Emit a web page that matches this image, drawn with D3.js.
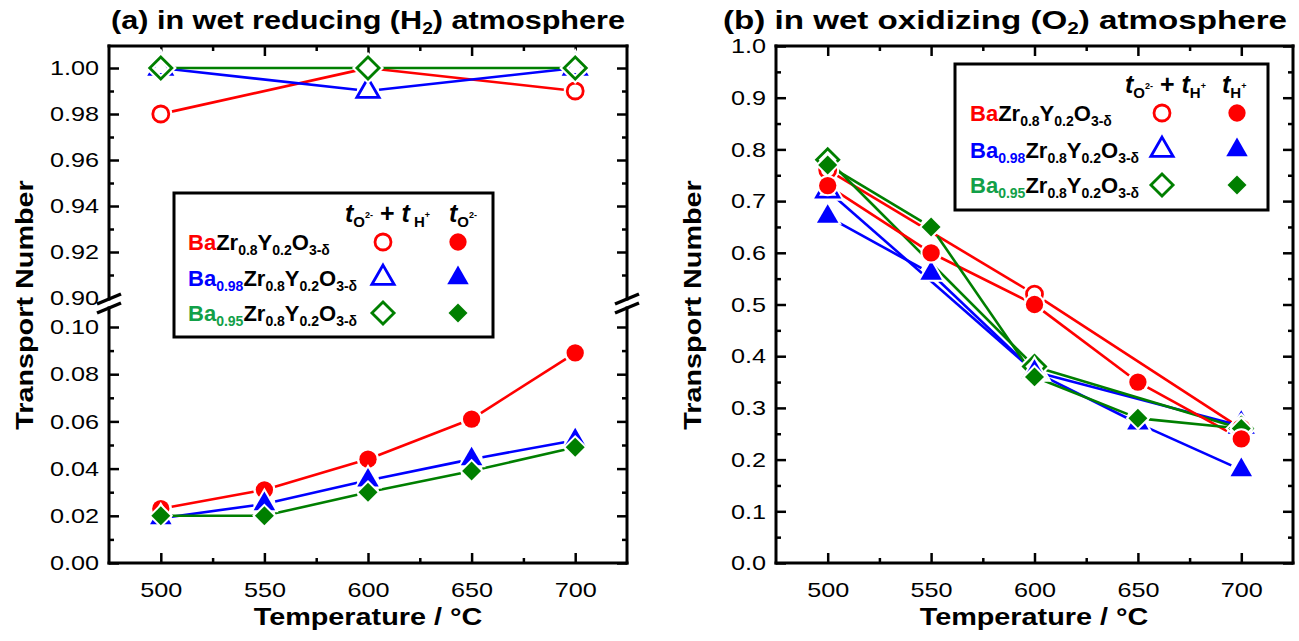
<!DOCTYPE html>
<html>
<head>
<meta charset="utf-8">
<script src="https://cdn.jsdelivr.net/npm/d3@7"></script>
<style>
  body { margin: 0; background: #fff; }
  text { font-family: "Liberation Sans", Arial, Helvetica, sans-serif; }
</style>
</head>
<body>
<svg id="chart" width="1299" height="641"></svg>
<script>
// ---- data ----
const temps      = [500, 550, 600, 650, 700];
const tempsTotal = [500, 600, 700];
const xTickVals  = [500, 550, 600, 650, 700];

// (a) wet reducing (H2): t_O2- + t_H+ (open) and t_O2- (filled)
const redTotalA   = [0.98, 1.00, 0.99];
const blueTotalA  = [1.00, 0.99, 1.00];
const greenTotalA = [1.00, 1.00, 1.00];
const redOxideA   = [0.023, 0.031, 0.044, 0.061, 0.089];
const blueOxideA  = [0.019, 0.025, 0.035, 0.044, 0.052];
const greenOxideA = [0.020, 0.020, 0.030, 0.039, 0.049];

// (b) wet oxidizing (O2): t_O2- + t_H+ (open) and t_H+ (filled)
const redTotalB    = [0.76, 0.52, 0.26];
const blueTotalB   = [0.72, 0.37, 0.265];
const greenTotalB  = [0.78, 0.38, 0.26];
const redProtonB   = [0.73, 0.60, 0.50, 0.35, 0.24];
const blueProtonB  = [0.67, 0.56, 0.37, 0.27, 0.18];
const greenProtonB = [0.77, 0.65, 0.36, 0.28, 0.26];

const yTicksAup = [0.90, 0.92, 0.94, 0.96, 0.98, 1.00];
const yTicksAlo = [0.00, 0.02, 0.04, 0.06, 0.08, 0.10];
const yTicksB   = [0, 0.1, 0.2, 0.3, 0.4, 0.5, 0.6, 0.7, 0.8, 0.9, 1.0];

const RED = '#ff0000', BLUE = '#0000ff', GREEN = '#007f00';
const TXT_GREEN = '#12a048';
const SX = 1.2;   // the original lettering is wider than Liberation Sans

const svg = d3.select('#chart');

// scales
const xA    = d3.scaleLinear().domain([475, 725]).range([109, 627]);
const yAup  = d3.scaleLinear().domain([0.90, 1.00957]).range([298, 46]);
const yAlo  = d3.scaleLinear().domain([0, 0.10]).range([563, 327]);
const xB    = d3.scaleLinear().domain([475, 725]).range([776, 1293]);
const yB    = d3.scaleLinear().domain([0, 1.0]).range([563, 46]);

// ---- helpers ----
function styleAxis(g, size) {
  g.select('.domain').remove();
  g.selectAll('.tick line').attr('stroke', '#000').attr('stroke-width', 2.5);
  g.selectAll('text').attr('font-size', size)
    .attr('font-family', '"Liberation Sans", Arial, sans-serif').attr('fill', '#000');
}

function drawXAxes(x, top, bottom) {
  const minor = [525, 575, 625, 675];
  let g = svg.append('g').attr('transform', `translate(0,${bottom})`)
    .call(d3.axisBottom(x).tickValues(xTickVals).tickSize(-10).tickPadding(19));
  styleAxis(g, 21);
  g = svg.append('g').attr('transform', `translate(0,${bottom})`)
    .call(d3.axisBottom(x).tickValues(minor).tickSize(-5).tickFormat(''));
  styleAxis(g, 21);
  g = svg.append('g').attr('transform', `translate(0,${top})`)
    .call(d3.axisTop(x).tickValues(xTickVals).tickSize(-10).tickFormat(''));
  styleAxis(g, 21);
  g = svg.append('g').attr('transform', `translate(0,${top})`)
    .call(d3.axisTop(x).tickValues(minor).tickSize(-5).tickFormat(''));
  styleAxis(g, 21);
}

function drawYAxes(y, left, right, major, minor, fmt, skipTick) {
  let g = svg.append('g').attr('transform', `translate(${left},0)`)
    .call(d3.axisLeft(y).tickValues(major).tickSize(-10).tickPadding(10).tickFormat(fmt));
  styleAxis(g, 21);
  if (skipTick !== undefined) g.selectAll('.tick').filter(d => d === skipTick).select('line').remove();
  g = svg.append('g').attr('transform', `translate(${left},0)`)
    .call(d3.axisLeft(y).tickValues(minor).tickSize(-5).tickFormat(''));
  styleAxis(g, 21);
  g = svg.append('g').attr('transform', `translate(${right},0)`)
    .call(d3.axisRight(y).tickValues(major.filter(d => d !== skipTick)).tickSize(-10).tickFormat(''));
  styleAxis(g, 21);
  g = svg.append('g').attr('transform', `translate(${right},0)`)
    .call(d3.axisRight(y).tickValues(minor).tickSize(-5).tickFormat(''));
  styleAxis(g, 21);
}

function seg(x1, y1, x2, y2) {
  svg.append('line').attr('x1', x1).attr('y1', y1).attr('x2', x2).attr('y2', y2)
    .attr('stroke', '#000').attr('stroke-width', 3).attr('stroke-linecap', 'square');
}

// line with small gaps next to each marker
function drawLine(layer, xs, ys, x, y, color, gap) {
  for (let i = 0; i < xs.length - 1; i++) {
    const x1 = x(xs[i]), y1 = y(ys[i]), x2 = x(xs[i + 1]), y2 = y(ys[i + 1]);
    const L = Math.hypot(x2 - x1, y2 - y1);
    const ux = (x2 - x1) / L, uy = (y2 - y1) / L;
    layer.append('line')
      .attr('x1', x1 + ux * gap).attr('y1', y1 + uy * gap)
      .attr('x2', x2 - ux * gap).attr('y2', y2 - uy * gap)
      .attr('stroke', color).attr('stroke-width', 2.6);
  }
}

const shapes = {
  circle:   { open: d3.symbol(d3.symbolCircle, 201)(),   filled: d3.symbol(d3.symbolCircle, 235)(),   rot: 0 },
  triangle: { open: d3.symbol(d3.symbolTriangle, 215)(), filled: d3.symbol(d3.symbolTriangle, 200)(), rot: 0 },
  diamond:  { open: d3.symbol(d3.symbolSquare, 245)(),   filled: d3.symbol(d3.symbolSquare, 180)(),   rot: 45 }
};

function marker(layer, shape, filled, cx, cy, color) {
  const s = shapes[shape];
  const d = filled ? s.filled : s.open;
  const tr = `translate(${cx},${cy}) rotate(${s.rot})`;
  layer.append('path').attr('d', d).attr('transform', tr)
    .attr('fill', filled ? '#fff' : 'none').attr('stroke', '#fff')
    .attr('stroke-width', filled ? 4 : 7).attr('stroke-linejoin', 'miter');
  layer.append('path').attr('d', d).attr('transform', tr)
    .attr('fill', filled ? color : 'none').attr('stroke', filled ? 'none' : color)
    .attr('stroke-width', 2.8).attr('stroke-linejoin', 'miter');
}

function drawMarkers(layer, xs, ys, x, y, shape, filled, color) {
  xs.forEach((t, i) => marker(layer, shape, filled, x(t), y(ys[i]), color));
}

// rich text with sub/superscripts; off = baseline shift (down positive)
function richText(x, y, parts, anchor, sx) {
  const t = svg.append('text').attr('x', x).attr('y', y)
    .attr('text-anchor', anchor || 'start').attr('font-weight', 'bold')
    .attr('data-sx', sx === undefined ? SX : sx);
  let prev = 0;
  parts.forEach(p => {
    const off = p.off || 0;
    t.append('tspan').attr('dy', off - prev)
      .attr('font-size', p.size || 22)
      .attr('font-style', p.italic ? 'italic' : 'normal')
      .attr('fill', p.color || '#000')
      .text(p.t);
    prev = off;
  });
  return t;
}

function formula(x, y, ba, baSub, color) {
  const parts = [{ t: ba, color: color }];
  if (baSub) parts.push({ t: baSub, size: 14, off: 5, color: color });
  parts.push({ t: 'Zr' }, { t: '0.8', size: 14, off: 5 }, { t: 'Y' },
             { t: '0.2', size: 14, off: 5 }, { t: 'O' }, { t: '3-\u03b4', size: 14, off: 5 });
  richText(x, y, parts, 'start', 1);
}

function legend(box, header2, rows) {
  svg.append('rect').attr('x', box.x).attr('y', box.y).attr('width', box.w).attr('height', box.h)
    .attr('fill', '#fff').attr('stroke', '#000').attr('stroke-width', 3);
  const L = svg.append('g');
  richText(box.hx1, box.hy, [
    { t: 't', size: 25, italic: true }, { t: 'O', size: 15, off: 5 }, { t: '2-', size: 9, off: -4 },
    { t: ' + ', size: 25 }, { t: 't', size: 25, italic: true }, { t: box.hsp + 'H', size: 15, off: 5 },
    { t: '+', size: 9, off: -4 }], 'start', 1);
  richText(box.hx2, box.hy, header2, 'start', 1);
  rows.forEach((r, i) => {
    const cy = box.rowY[i];
    formula(box.tx, cy + 8, r.ba, r.sub, r.txt);
    marker(L, r.shape, false, box.ox, cy, r.color);
    marker(L, r.shape, true, box.fx, cy, r.color);
  });
}

// ================= panel (a) =================
drawXAxes(xA, 46, 563);
drawYAxes(yAup, 109, 627, yTicksAup, [0.91, 0.93, 0.95, 0.97, 0.99], d3.format('.2f'), 0.90);
drawYAxes(yAlo, 109, 627, yTicksAlo, [0.01, 0.03, 0.05, 0.07, 0.09], d3.format('.2f'));
seg(109, 46, 627, 46); seg(109, 563, 627, 563);
[109, 627].forEach(xx => {
  seg(xx, 46, xx, 299); seg(xx, 308, xx, 563);
  [299, 308].forEach(yc => svg.append('line')
    .attr('x1', xx - 12).attr('y1', yc + 5).attr('x2', xx + 12).attr('y2', yc - 5)
    .attr('stroke', '#000').attr('stroke-width', 3.5));
});

const linesA = svg.append('g'), marksA = svg.append('g');
drawLine(linesA, tempsTotal, redTotalA, xA, yAup, RED, 11);
drawLine(linesA, tempsTotal, blueTotalA, xA, yAup, BLUE, 11);
drawLine(linesA, tempsTotal, greenTotalA, xA, yAup, GREEN, 11);
drawLine(linesA, temps, redOxideA, xA, yAlo, RED, 11);
drawLine(linesA, temps, blueOxideA, xA, yAlo, BLUE, 11);
drawLine(linesA, temps, greenOxideA, xA, yAlo, GREEN, 11);
drawMarkers(marksA, tempsTotal, redTotalA, xA, yAup, 'circle', false, RED);
drawMarkers(marksA, tempsTotal, blueTotalA, xA, yAup, 'triangle', false, BLUE);
drawMarkers(marksA, tempsTotal, greenTotalA, xA, yAup, 'diamond', false, GREEN);
drawMarkers(marksA, temps, redOxideA, xA, yAlo, 'circle', true, RED);
drawMarkers(marksA, temps, blueOxideA, xA, yAlo, 'triangle', true, BLUE);
drawMarkers(marksA, temps, greenOxideA, xA, yAlo, 'diamond', true, GREEN);

const legendRows = [
  { ba: 'Ba', sub: null, txt: RED, color: RED, shape: 'circle' },
  { ba: 'Ba', sub: '0.98', txt: BLUE, color: BLUE, shape: 'triangle' },
  { ba: 'Ba', sub: '0.95', txt: TXT_GREEN, color: GREEN, shape: 'diamond' }
];
legend({ x: 174, y: 193, w: 319, h: 144, hx1: 345, hx2: 449, hy: 222, hsp: ' ',
         rowY: [242, 278, 313], tx: 188, ox: 383, fx: 458 },
  [{ t: 't', size: 25, italic: true }, { t: 'O', size: 15, off: 5 }, { t: '2-', size: 9, off: -4 }],
  legendRows);

richText(368, 29, [{ t: '(a) in wet reducing (H', size: 25.5 }, { t: '2', size: 16, off: 5 },
  { t: ') atmosphere', size: 25.5 }], 'middle');

// ================= panel (b) =================
drawXAxes(xB, 46, 563);
drawYAxes(yB, 776, 1293, yTicksB, [0.05, 0.15, 0.25, 0.35, 0.45, 0.55, 0.65, 0.75, 0.85, 0.95], d3.format('.1f'));
seg(776, 46, 1293, 46); seg(776, 563, 1293, 563);
seg(776, 46, 776, 563); seg(1293, 46, 1293, 563);

const linesB = svg.append('g'), marksB = svg.append('g');
drawLine(linesB, tempsTotal, redTotalB, xB, yB, RED, 11);
drawLine(linesB, tempsTotal, blueTotalB, xB, yB, BLUE, 11);
drawLine(linesB, tempsTotal, greenTotalB, xB, yB, GREEN, 11);
drawLine(linesB, temps, redProtonB, xB, yB, RED, 11);
drawLine(linesB, temps, blueProtonB, xB, yB, BLUE, 11);
drawLine(linesB, temps, greenProtonB, xB, yB, GREEN, 11);
drawMarkers(marksB, tempsTotal, blueTotalB, xB, yB, 'triangle', false, BLUE);
drawMarkers(marksB, tempsTotal, greenTotalB, xB, yB, 'diamond', false, GREEN);
drawMarkers(marksB, tempsTotal, redTotalB, xB, yB, 'circle', false, RED);
drawMarkers(marksB, temps, blueProtonB, xB, yB, 'triangle', true, BLUE);
drawMarkers(marksB, temps, greenProtonB, xB, yB, 'diamond', true, GREEN);
drawMarkers(marksB, temps, redProtonB, xB, yB, 'circle', true, RED);

legend({ x: 955, y: 64, w: 313, h: 146, hx1: 1125, hx2: 1222, hy: 93, hsp: '',
         rowY: [113, 150, 185], tx: 970, ox: 1162, fx: 1237 },
  [{ t: 't', size: 25, italic: true }, { t: 'H', size: 15, off: 5 }, { t: '+', size: 9, off: -4 }],
  legendRows);

richText(1005, 29, [{ t: '(b) in wet oxidizing (O', size: 25.5 }, { t: '2', size: 16, off: 5 },
  { t: ') atmosphere', size: 25.5 }], 'middle', 1.3);

// ---- axis titles ----
[33, 701].forEach(bx => {
  svg.append('text').attr('transform', `translate(${bx},305) rotate(-90)`)
    .attr('text-anchor', 'middle').attr('font-size', 24).attr('font-weight', 'bold')
    .text('Transport Number');
});
[368, 1034].forEach(cx => {
  svg.append('text').attr('x', cx).attr('y', 625).attr('text-anchor', 'middle')
    .attr('font-size', 24).attr('font-weight', 'bold').text('Temperature / \u00b0C');
});

// widen lettering to match the original proportions
svg.selectAll('text').each(function () {
  const attr = this.getAttribute('data-sx');
  const f = attr === null ? SX : +attr;
  const w = this.getComputedTextLength();
  if (w > 0 && f !== 1) d3.select(this).attr('textLength', w * f).attr('lengthAdjust', 'spacingAndGlyphs');
});
</script>
</body>
</html>
